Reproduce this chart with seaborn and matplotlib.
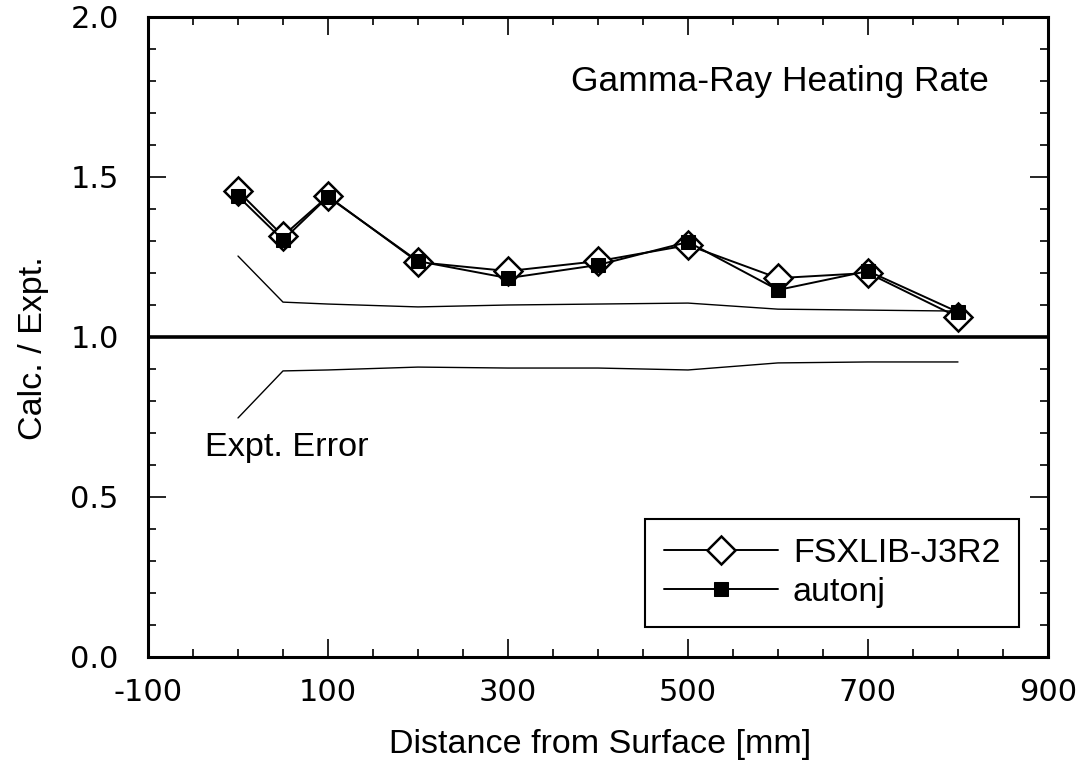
import matplotlib
matplotlib.use("Agg")
import matplotlib.pyplot as plt
import seaborn as sns
from matplotlib.ticker import MultipleLocator, FormatStrFormatter

# ---- data ----
distance = [0, 50, 100, 200, 300, 400, 500, 600, 700, 800]
fsxlib = [1.456, 1.316, 1.440, 1.234, 1.206, 1.237, 1.287, 1.184, 1.200, 1.062]
autonj = [1.440, 1.303, 1.438, 1.237, 1.184, 1.225, 1.297, 1.147, 1.206, 1.078]
err_upper = [1.253, 1.109, 1.103, 1.094, 1.100, 1.103, 1.106, 1.087, 1.084, 1.081]
err_lower = [0.747, 0.894, 0.897, 0.906, 0.903, 0.903, 0.897, 0.919, 0.922, 0.922]

x_ticks = [-100, 100, 300, 500, 700, 900]
y_ticks = [0.0, 0.5, 1.0, 1.5, 2.0]

sns.set_style("ticks")
plt.rcParams["font.family"] = ["Liberation Sans", "DejaVu Sans"]
plt.rcParams["axes.unicode_minus"] = False
plt.rcParams["text.color"] = "black"
plt.rcParams["axes.labelcolor"] = "black"

fig = plt.figure(figsize=(10.9, 7.61), dpi=100)
ax = fig.add_axes([148 / 1090, 1 - 657 / 761, (1048 - 148) / 1090, (657 - 17) / 761])

# experimental error band lines
sns.lineplot(x=distance, y=err_upper, ax=ax, color="black", lw=1.0, label="_nolegend_")
sns.lineplot(x=distance, y=err_lower, ax=ax, color="black", lw=1.0, label="_nolegend_")
ax.axhline(1.0, color="black", lw=2.6, zorder=1)

sns.lineplot(x=distance, y=fsxlib, ax=ax, color="black", lw=1.4, marker="D",
             markersize=14, markerfacecolor="white", markeredgecolor="black",
             markeredgewidth=1.8, label="FSXLIB-J3R2", zorder=3)
sns.lineplot(x=distance, y=autonj, ax=ax, color="black", lw=1.4, marker="s",
             markersize=10, markerfacecolor="black", markeredgecolor="black",
             label="autonj", zorder=4)

ax.set_xlim(-100, 900)
ax.set_ylim(0.0, 2.0)
ax.set_xticks(x_ticks)
ax.set_yticks(y_ticks)
ax.xaxis.set_minor_locator(MultipleLocator(50))
ax.yaxis.set_minor_locator(MultipleLocator(0.1))
ax.yaxis.set_major_formatter(FormatStrFormatter("%.1f"))

for s in ax.spines.values():
    s.set_linewidth(2.2)
    s.set_color("black")

ax.tick_params(which="both", direction="in", top=True, right=True, color="black",
               width=1.2, labelcolor="black")
ax.tick_params(which="major", length=13)
ax.tick_params(which="minor", length=6)
ax.tick_params(axis="x", which="major", pad=15, labelsize=22, labelfontfamily="DejaVu Sans")
ax.tick_params(axis="y", which="major", pad=21, labelsize=22, labelfontfamily="DejaVu Sans")

ax.set_xlabel("Distance from Surface [mm]", fontsize=24.5, color="black")
ax.set_ylabel("Calc. / Expt.", fontsize=24.5, color="black")
ax.xaxis.set_label_coords(0.502, -0.113)
ax.yaxis.set_label_coords(-0.110, 0.483)
ax.xaxis.label.set_verticalalignment("top")

ax.text(834, 1.80, "Gamma-Ray Heating Rate", fontsize=25.5, ha="right", va="center",
        color="black")
ax.text(-37, 0.656, "Expt. Error", fontsize=24.7, ha="left", va="center", color="black")

handles, labels = ax.get_legend_handles_labels()
leg = ax.legend(handles=handles, labels=labels, loc="lower right",
                bbox_to_anchor=(0.968, 0.047), borderaxespad=0, frameon=True,
                fancybox=False, edgecolor="black", framealpha=1, shadow=False,
                handlelength=3.35, handletextpad=0.45, borderpad=0.55,
                labelspacing=0.25, fontsize=24.5, labelcolor="black")
leg.get_frame().set_linewidth(1.5)

fig.savefig("out.png", dpi=100, facecolor="white")
